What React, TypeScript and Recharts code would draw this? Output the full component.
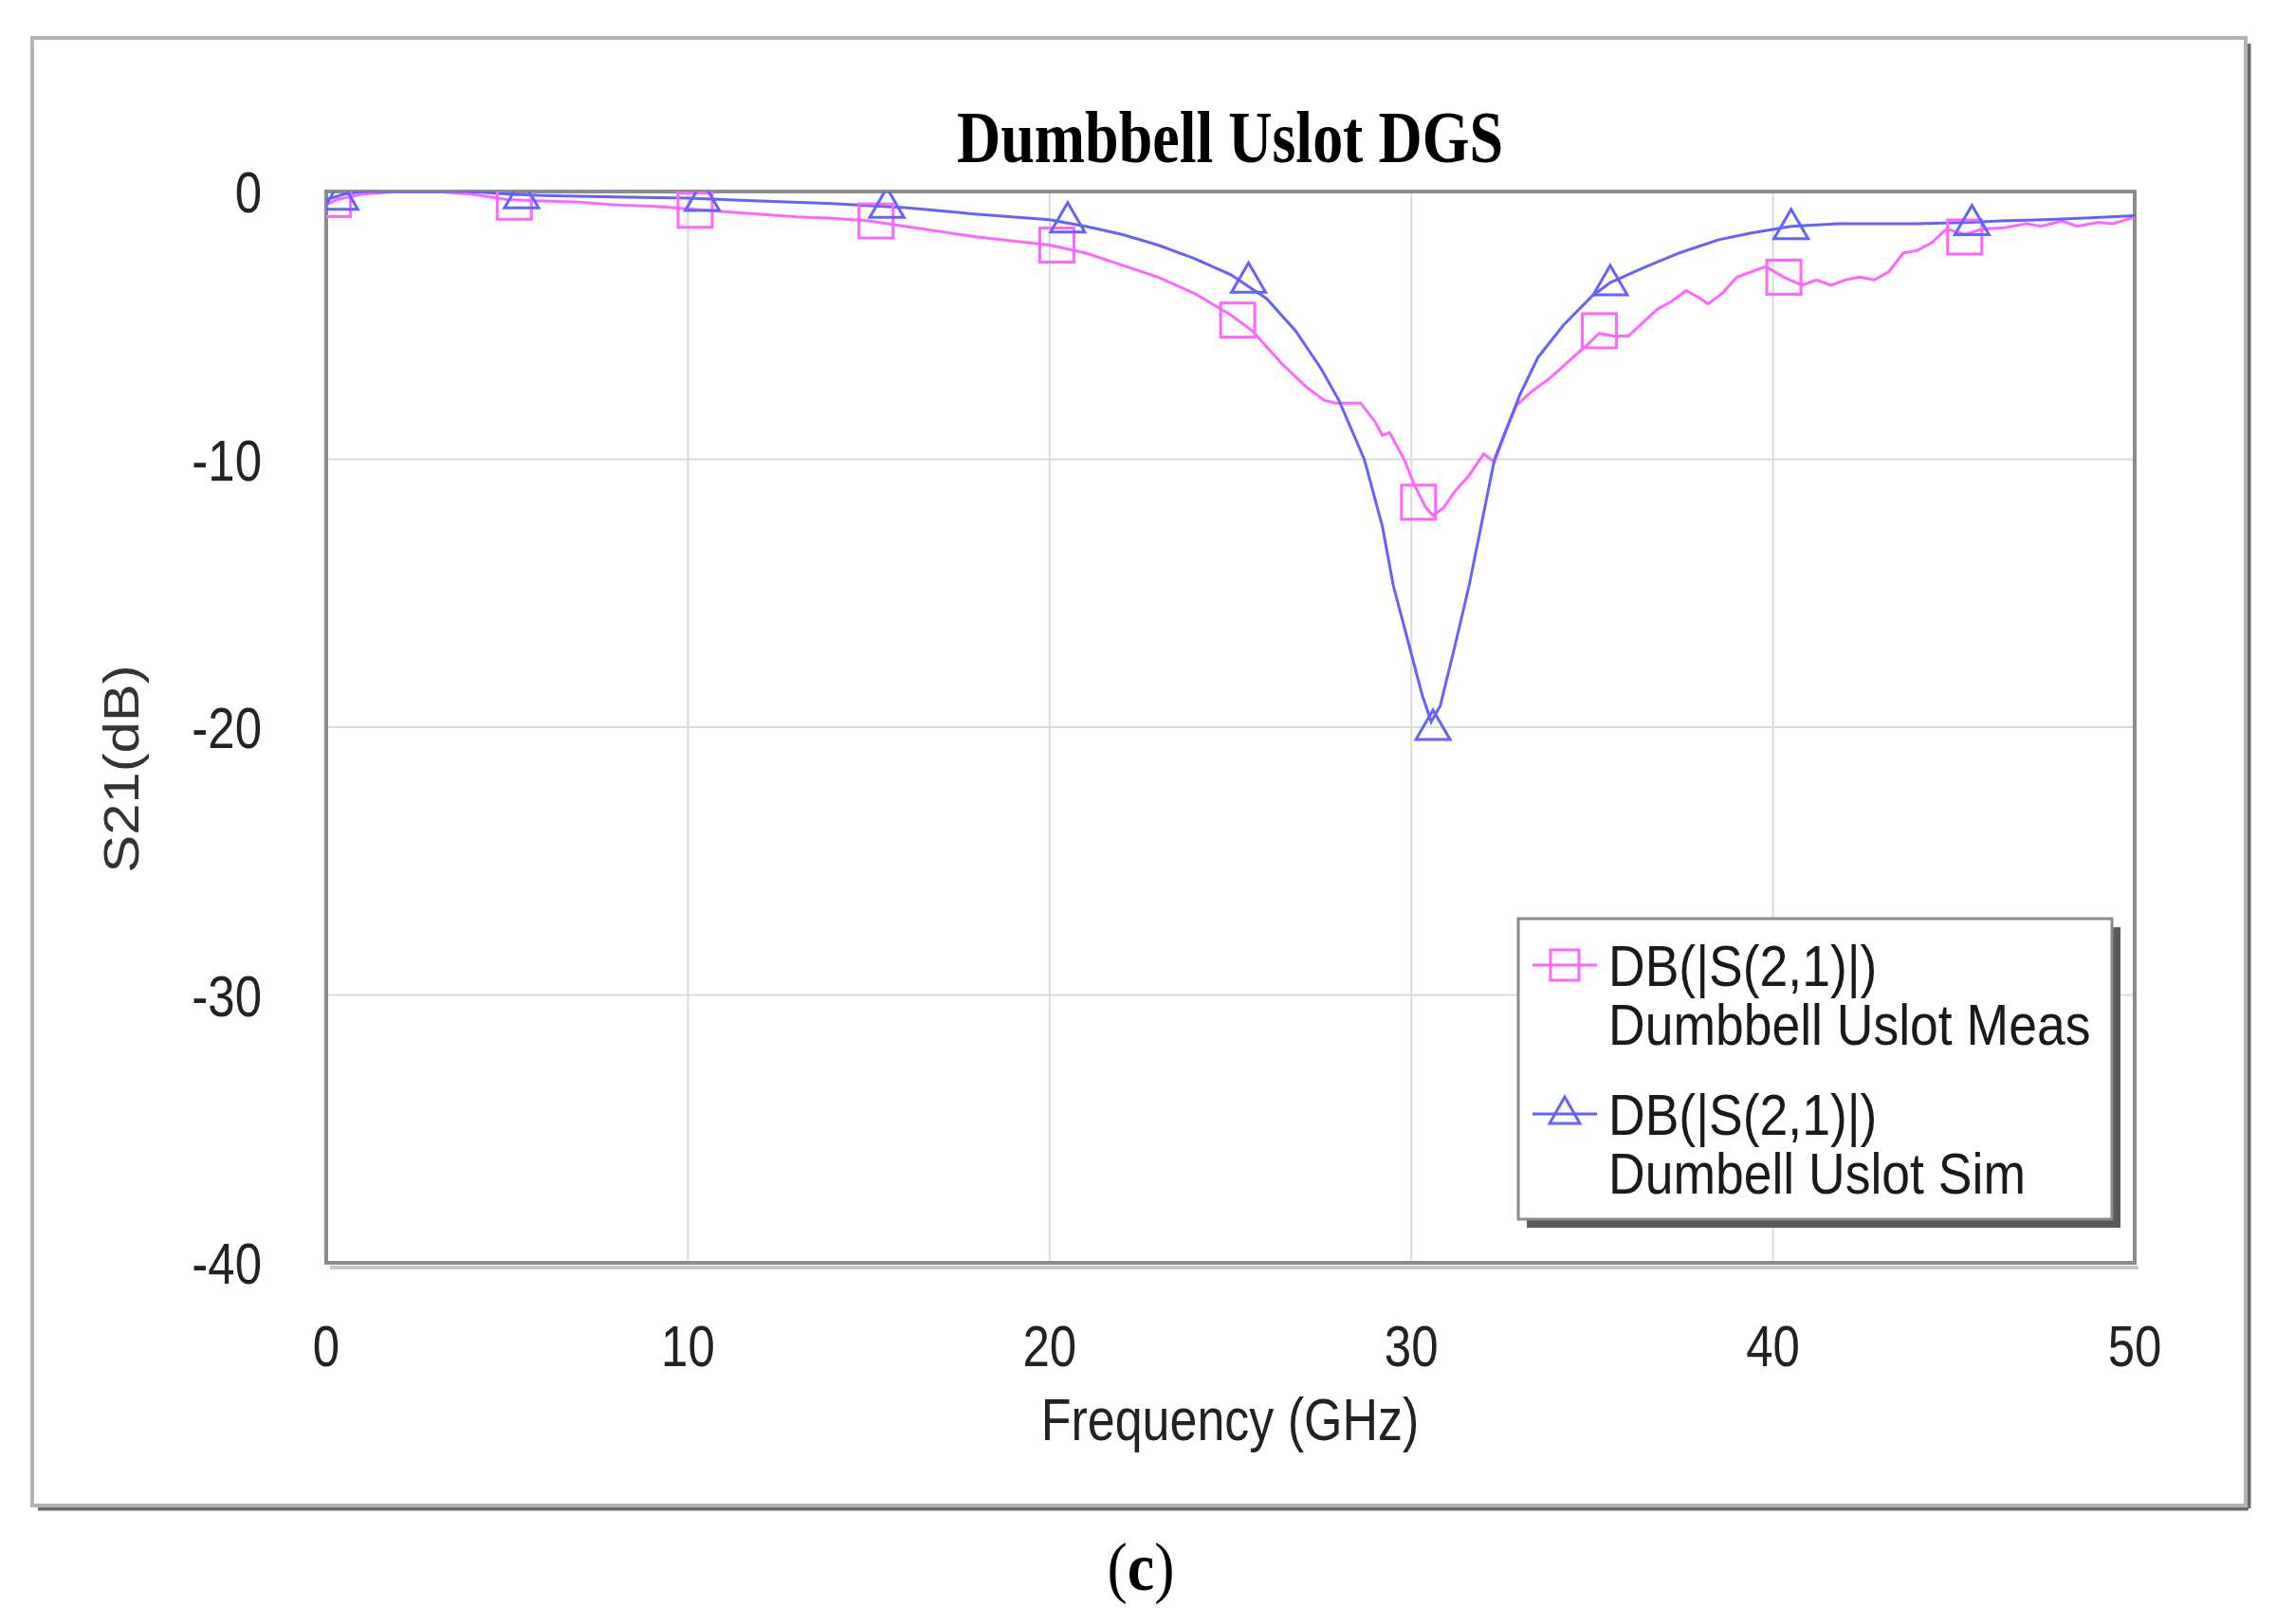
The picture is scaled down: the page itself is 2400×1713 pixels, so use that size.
import React from 'react';
import { ComposedChart, Line, Scatter, XAxis, YAxis, CartesianGrid, ReferenceArea } from 'recharts';

// measured trace (GHz, dB)
const measFreq = [0, 0.3, 1, 2, 3, 4, 5, 6, 7, 8, 9, 10, 11, 12, 13, 14, 15, 16, 17, 18, 19, 20, 21, 22, 23, 24, 25, 25.6, 26.4, 27.1, 27.6, 27.9, 28.6, 29.0, 29.2, 29.4, 29.8, 30.1, 30.4, 30.6, 30.9, 31.2, 31.6, 32.0, 32.3, 32.6, 32.9, 33.3, 33.8, 34.3, 34.8, 35.2, 35.6, 36.0, 36.4, 36.8, 37.2, 37.6, 38.0, 38.2, 38.6, 39.0, 39.4, 39.8, 40.3, 40.8, 41.2, 41.6, 42.0, 42.4, 42.8, 43.2, 43.6, 44.0, 44.4, 44.8, 45.3, 45.8, 46.4, 47.0, 47.4, 48.0, 48.4, 49.0, 49.4, 50];
const measDb = [-0.5, -0.3, -0.1, 0, 0, -0.1, -0.3, -0.35, -0.4, -0.5, -0.55, -0.65, -0.75, -0.85, -0.95, -1.0, -1.1, -1.3, -1.5, -1.7, -1.85, -2.0, -2.3, -2.75, -3.2, -3.8, -4.6, -5.2, -6.4, -7.3, -7.8, -7.9, -7.9, -8.6, -9.1, -9.0, -10.0, -11.0, -11.8, -12.1, -11.8, -11.2, -10.6, -9.8, -10.1, -9.0, -8.0, -7.5, -7.0, -6.4, -5.8, -5.3, -5.4, -5.4, -4.9, -4.4, -4.1, -3.7, -4.0, -4.2, -3.8, -3.2, -3.0, -2.8, -3.2, -3.5, -3.3, -3.5, -3.3, -3.2, -3.3, -3.0, -2.3, -2.2, -1.9, -1.4, -1.6, -1.4, -1.35, -1.2, -1.3, -1.1, -1.3, -1.15, -1.2, -0.95];

// simulated trace (GHz, dB)
const simFreq = [0, 0.5, 1, 2, 3, 4, 5, 6, 8, 10, 12, 14, 16, 18, 20, 21, 22, 23, 24, 25, 26, 26.8, 27.5, 28, 28.7, 29.2, 29.5, 29.95, 30.3, 30.55, 30.8, 31.2, 31.6, 32.3, 33.0, 33.5, 34.2, 35, 35.5, 36.5, 37.4, 38.5, 39.4, 40.5, 41.8, 43, 44, 45.5, 46.3, 47.5, 48.5, 50];
const simDb = [-0.3, -0.1, 0, 0, 0, 0, -0.1, -0.15, -0.2, -0.25, -0.35, -0.45, -0.6, -0.85, -1.05, -1.3, -1.6, -2.0, -2.5, -3.1, -4.0, -5.2, -6.6, -7.8, -10.0, -12.5, -14.7, -17.0, -18.8, -19.8, -19.2, -17.0, -14.7, -10.0, -7.6, -6.2, -5.0, -3.9, -3.4, -2.8, -2.3, -1.8, -1.55, -1.3, -1.2, -1.2, -1.2, -1.15, -1.1, -1.05, -1.0, -0.9];

// marker positions
const measMarkFreq = [0.2, 5.2, 10.2, 15.2, 20.2, 25.2, 30.2, 35.2, 40.3, 45.3];
const measMarkDb = [-0.3, -0.4, -0.7, -1.1, -2.0, -4.8, -11.6, -5.2, -3.2, -1.7];
const simMarkFreq = [0.4, 5.4, 10.4, 15.5, 20.5, 25.5, 30.6, 35.5, 40.5, 45.5];
const simMarkDb = [-0.2, -0.15, -0.25, -0.5, -1.05, -3.3, -20.0, -3.4, -1.3, -1.15];

const xTicks = [0, 10, 20, 30, 40, 50];
const yTicks = [0, -10, -20, -30, -40];

const PINK = '#ff66ff';
const BLUE = '#6262ff';

const meas = measFreq.map((f, i) => ({ f, v: measDb[i] }));
const sim = simFreq.map((f, i) => ({ f, v: simDb[i] }));
const measMarks = measMarkFreq.map((f, i) => ({ f, v: measMarkDb[i] }));
const simMarks = simMarkFreq.map((f, i) => ({ f, v: simMarkDb[i] }));

const SANS = '"Liberation Sans", Arial, sans-serif';
const SERIF = '"Liberation Serif", "Times New Roman", serif';

const Square = (p: any) => (
  <rect x={p.cx - 18} y={p.cy - 18} width={36} height={36} fill="none" stroke={PINK} strokeWidth={3} />
);
const Tri = (p: any) => (
  <polygon points={`${p.cx},${p.cy - 18} ${p.cx - 18},${p.cy + 13} ${p.cx + 18},${p.cy + 13}`} fill="none" stroke={BLUE} strokeWidth={3} />
);

const XTick = (p: any) => (
  <text transform={`translate(${p.x} ${p.y}) scale(1 1.2)`} textAnchor="middle" dy="0.36em" fontSize={51} fontFamily={SANS} fill="#222">
    {p.payload.value}
  </text>
);
const YTick = (p: any) => (
  <text transform={`translate(${p.x} ${p.y}) scale(1 1.2)`} textAnchor="end" dy="0.36em" fontSize={51} fontFamily={SANS} fill="#222">
    {p.payload.value}
  </text>
);

function LegendItem({ y, label, kind, color }: { y: number; label: string; kind: string; color: string }) {
  return (
    <g>
      <line x1={1616} y1={y} x2={1684} y2={y} stroke={color} strokeWidth={3} />
      {kind === 'sq' ? (
        <rect x={1635} y={y - 16} width={30} height={32} fill="none" stroke={color} strokeWidth={3} />
      ) : (
        <polygon points={`1650,${y - 18} 1634,${y + 10} 1666,${y + 10}`} fill="none" stroke={color} strokeWidth={3} />
      )}
      <text transform={`translate(1696 ${y}) scale(1 1.13)`} dy="0.36em" fontSize={53.5} fontFamily={SANS} fill="#1a1a1a">DB(|S(2,1)|)</text>
      <text transform={`translate(1696 ${y + 62}) scale(1 1.13)`} dy="0.36em" fontSize={53.5} fontFamily={SANS} fill="#1a1a1a">{label}</text>
    </g>
  );
}

export default function App() {
  return (
    <div style={{ position: 'absolute', left: 0, top: 0, width: 2400, height: 1713, background: '#fff' }}>
      <ComposedChart width={2400} height={1713} margin={{ top: 202, right: 149, bottom: 231, left: 194 }}>
        <CartesianGrid stroke="#dadada" strokeWidth={2} />
        <XAxis type="number" dataKey="f" domain={[0, 50]} ticks={xTicks} allowDataOverflow axisLine={false} tickLine={false} tickSize={0} tickMargin={87} tick={<XTick />} height={150} />
        <YAxis type="number" dataKey="v" domain={[-40, 0]} ticks={yTicks} allowDataOverflow axisLine={false} tickLine={false} tickSize={0} tickMargin={68} tick={<YTick />} width={150} />
        <ReferenceArea x1={0} x2={50} y1={-40} y2={0} fill="none" stroke="#8c8c8c" strokeWidth={4} ifOverflow="visible" />
        <Line data={meas} dataKey="v" type="linear" stroke={PINK} strokeWidth={3} dot={false} isAnimationActive={false} />
        <Line data={sim} dataKey="v" type="linear" stroke={BLUE} strokeWidth={3} dot={false} isAnimationActive={false} />
        <Scatter data={measMarks} dataKey="v" shape={Square} isAnimationActive={false} />
        <Scatter data={simMarks} dataKey="v" shape={Tri} isAnimationActive={false} />
      </ComposedChart>
      <svg width={2400} height={1713} style={{ position: 'absolute', left: 0, top: 0, pointerEvents: 'none' }}>
        {/* outer frame */}
        <line x1={2371} y1={46} x2={2371} y2={1591} stroke="#6a6a6a" strokeWidth={5} />
        <line x1={40} y1={1591} x2={2371} y2={1591} stroke="#6a6a6a" strokeWidth={5} />
        <rect x={34} y={40} width={2334} height={1548} fill="none" stroke="#b2b2b2" strokeWidth={4} />
        {/* soft shadow under plot frame */}
        <line x1={348} y1={1337} x2={2255} y2={1337} stroke="#c8c8c8" strokeWidth={4} />
        <text transform="translate(1297 145) scale(1 1.22)" textAnchor="middle" dy="0.33em" fontSize={64} fontWeight="bold" fontFamily={SERIF} fill="#000">Dumbbell Uslot DGS</text>
        <text transform="translate(1297 1497) scale(1 1.2)" textAnchor="middle" dy="0.36em" fontSize={52} fontFamily={SANS} fill="#222">Frequency (GHz)</text>
        <text transform="translate(127 811) rotate(-90) scale(1.15 1)" textAnchor="middle" dy="0.36em" fontSize={52} fontFamily={SANS} fill="#333">S21(dB)</text>
        {/* legend */}
        <rect x={1610} y={978} width={626} height={317} fill="#5a5a5a" />
        <rect x={1601} y={969} width={626} height={317} fill="#fff" stroke="#8a8a8a" strokeWidth={3} />
        <LegendItem y={1018} label="Dumbbell Uslot Meas" kind="sq" color={PINK} />
        <LegendItem y={1175} label="Dumbell Uslot Sim" kind="tri" color={BLUE} />
        {/* caption */}
        <text transform="translate(1203 1653) scale(1 1.12)" textAnchor="middle" dy="0.33em" fontSize={64} fontFamily={SERIF} fill="#000">
          (<tspan fontWeight="bold">c</tspan>)
        </text>
      </svg>
    </div>
  );
}
